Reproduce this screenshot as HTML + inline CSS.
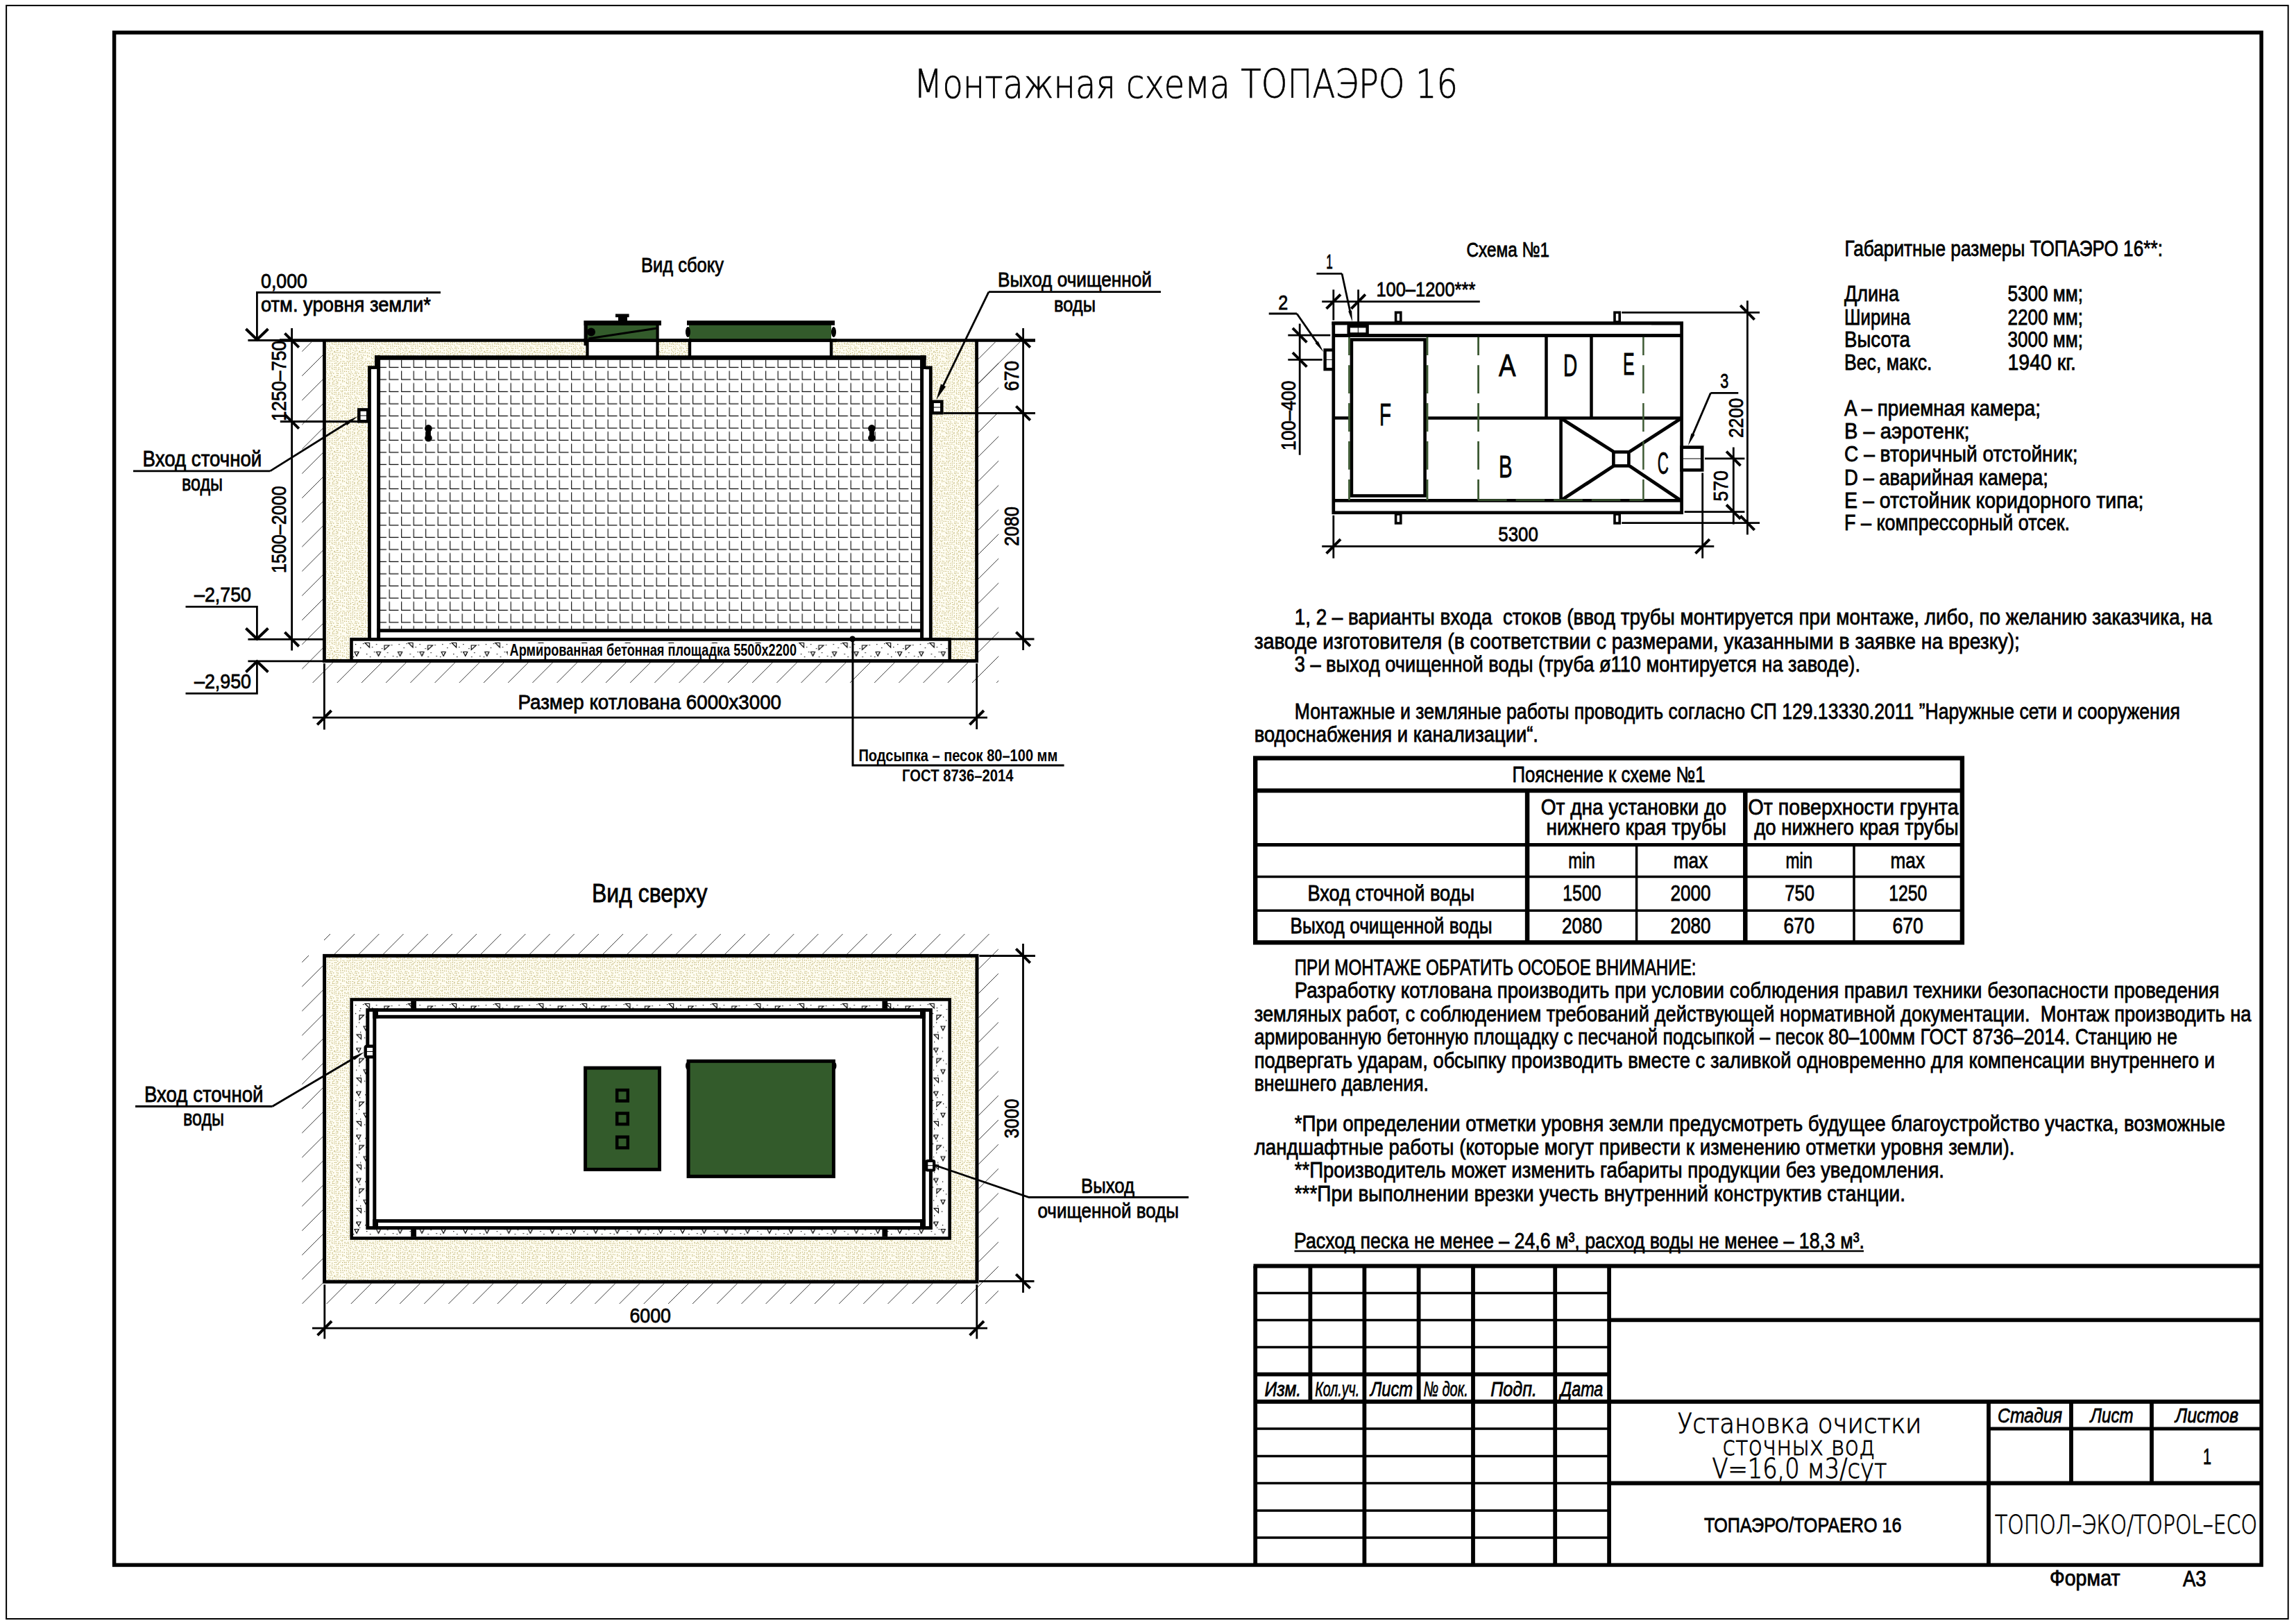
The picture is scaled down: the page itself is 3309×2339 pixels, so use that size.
<!DOCTYPE html>
<html lang="ru"><head><meta charset="utf-8"><title>Монтажная схема ТОПАЭРО 16</title>
<style>
html,body{margin:0;padding:0;background:#fff;}
svg{display:block;}
text{font-family:"Liberation Sans", "DejaVu Sans", sans-serif;fill:#000;white-space:pre;}
text.thin{font-family:"DejaVu Sans Light","DejaVu Sans","Liberation Sans",sans-serif;font-weight:200;}
</style></head><body>
<svg width="3309" height="2339" viewBox="0 0 3309 2339">
<defs>
<pattern id="sand" patternUnits="userSpaceOnUse" width="36" height="36">
<rect width="36" height="36" fill="#fffdf2"/>
<rect x="0.4" y="1.2" width="1.0" height="1.4" fill="#c6ba74"/>
<rect x="1.1" y="4.7" width="1.0" height="1.4" fill="#b5a75c"/>
<rect x="0.3" y="6.3" width="1.0" height="1.4" fill="#c6ba74"/>
<rect x="0.6" y="10.2" width="1.4" height="1.0" fill="#c6ba74"/>
<rect x="0.3" y="12.6" width="1.4" height="1.0" fill="#c0b268"/>
<rect x="0.4" y="15.4" width="1.0" height="1.4" fill="#b3a964"/>
<rect x="1.1" y="19.2" width="1.0" height="1.4" fill="#c6ba74"/>
<rect x="1.1" y="22.2" width="1.0" height="1.4" fill="#c6ba74"/>
<rect x="0.7" y="25.1" width="1.0" height="1.4" fill="#b9ab60"/>
<rect x="0.5" y="28.4" width="1.0" height="1.4" fill="#b9ab60"/>
<rect x="1.6" y="31.4" width="1.0" height="1.4" fill="#b5a75c"/>
<rect x="0.9" y="34.4" width="1.0" height="1.4" fill="#ada45e"/>
<rect x="4.7" y="0.3" width="1.4" height="1.0" fill="#b9ab60"/>
<rect x="3.8" y="4.0" width="1.4" height="1.0" fill="#b5a75c"/>
<rect x="4.7" y="7.0" width="1.4" height="1.0" fill="#b5a75c"/>
<rect x="3.7" y="10.1" width="1.4" height="1.0" fill="#ada45e"/>
<rect x="3.8" y="13.3" width="1.0" height="1.4" fill="#ada45e"/>
<rect x="4.2" y="16.0" width="1.0" height="1.4" fill="#b9ab60"/>
<rect x="3.6" y="18.8" width="1.4" height="1.0" fill="#b5a75c"/>
<rect x="3.8" y="21.6" width="1.0" height="1.4" fill="#ada45e"/>
<rect x="3.6" y="24.9" width="1.0" height="1.4" fill="#ada45e"/>
<rect x="3.4" y="27.5" width="1.0" height="1.4" fill="#c0b268"/>
<rect x="3.5" y="33.7" width="1.0" height="1.4" fill="#c6ba74"/>
<rect x="7.1" y="1.7" width="1.4" height="1.0" fill="#c6ba74"/>
<rect x="7.2" y="4.4" width="1.0" height="1.4" fill="#b3a964"/>
<rect x="6.8" y="6.8" width="1.0" height="1.4" fill="#b3a964"/>
<rect x="6.5" y="10.8" width="1.0" height="1.4" fill="#b5a75c"/>
<rect x="6.3" y="12.2" width="1.0" height="1.4" fill="#b5a75c"/>
<rect x="7.2" y="15.3" width="1.0" height="1.4" fill="#ada45e"/>
<rect x="6.6" y="18.8" width="1.0" height="1.4" fill="#b5a75c"/>
<rect x="7.0" y="22.8" width="1.0" height="1.4" fill="#b9ab60"/>
<rect x="6.4" y="24.7" width="1.0" height="1.4" fill="#b3a964"/>
<rect x="6.2" y="28.7" width="1.4" height="1.0" fill="#c0b268"/>
<rect x="7.7" y="31.4" width="1.0" height="1.4" fill="#b3a964"/>
<rect x="7.3" y="33.6" width="1.0" height="1.4" fill="#c0b268"/>
<rect x="9.6" y="1.1" width="1.4" height="1.0" fill="#b3a964"/>
<rect x="10.5" y="4.8" width="1.4" height="1.0" fill="#c0b268"/>
<rect x="10.4" y="6.6" width="1.4" height="1.0" fill="#b9ab60"/>
<rect x="10.8" y="10.5" width="1.0" height="1.4" fill="#c0b268"/>
<rect x="10.7" y="12.9" width="1.4" height="1.0" fill="#b9ab60"/>
<rect x="9.8" y="15.6" width="1.0" height="1.4" fill="#c0b268"/>
<rect x="10.0" y="19.8" width="1.4" height="1.0" fill="#b5a75c"/>
<rect x="10.2" y="22.5" width="1.0" height="1.4" fill="#b3a964"/>
<rect x="9.8" y="25.3" width="1.0" height="1.4" fill="#c0b268"/>
<rect x="10.2" y="27.3" width="1.4" height="1.0" fill="#b3a964"/>
<rect x="9.8" y="31.7" width="1.4" height="1.0" fill="#c0b268"/>
<rect x="9.2" y="34.1" width="1.0" height="1.4" fill="#b3a964"/>
<rect x="13.5" y="1.8" width="1.4" height="1.0" fill="#b9ab60"/>
<rect x="13.1" y="3.2" width="1.4" height="1.0" fill="#b3a964"/>
<rect x="13.0" y="7.7" width="1.0" height="1.4" fill="#c0b268"/>
<rect x="12.5" y="9.6" width="1.0" height="1.4" fill="#c0b268"/>
<rect x="12.7" y="13.1" width="1.4" height="1.0" fill="#b5a75c"/>
<rect x="12.8" y="15.9" width="1.4" height="1.0" fill="#c6ba74"/>
<rect x="13.7" y="19.0" width="1.4" height="1.0" fill="#c6ba74"/>
<rect x="13.6" y="22.4" width="1.4" height="1.0" fill="#c0b268"/>
<rect x="13.0" y="25.4" width="1.4" height="1.0" fill="#b9ab60"/>
<rect x="13.0" y="28.0" width="1.4" height="1.0" fill="#c6ba74"/>
<rect x="12.3" y="33.4" width="1.0" height="1.4" fill="#b5a75c"/>
<rect x="16.7" y="0.9" width="1.4" height="1.0" fill="#c6ba74"/>
<rect x="15.5" y="3.6" width="1.4" height="1.0" fill="#ada45e"/>
<rect x="15.6" y="7.0" width="1.4" height="1.0" fill="#b9ab60"/>
<rect x="16.6" y="9.5" width="1.0" height="1.4" fill="#ada45e"/>
<rect x="15.9" y="12.3" width="1.0" height="1.4" fill="#b5a75c"/>
<rect x="15.7" y="15.4" width="1.4" height="1.0" fill="#b3a964"/>
<rect x="15.8" y="18.6" width="1.0" height="1.4" fill="#ada45e"/>
<rect x="16.7" y="21.8" width="1.0" height="1.4" fill="#b3a964"/>
<rect x="15.5" y="24.9" width="1.4" height="1.0" fill="#b9ab60"/>
<rect x="15.8" y="27.3" width="1.0" height="1.4" fill="#b9ab60"/>
<rect x="15.9" y="30.2" width="1.0" height="1.4" fill="#c6ba74"/>
<rect x="16.7" y="33.4" width="1.4" height="1.0" fill="#c0b268"/>
<rect x="18.4" y="0.6" width="1.0" height="1.4" fill="#c0b268"/>
<rect x="18.4" y="3.9" width="1.4" height="1.0" fill="#b9ab60"/>
<rect x="19.1" y="7.0" width="1.0" height="1.4" fill="#b9ab60"/>
<rect x="18.3" y="10.3" width="1.0" height="1.4" fill="#b5a75c"/>
<rect x="18.2" y="12.3" width="1.0" height="1.4" fill="#c6ba74"/>
<rect x="18.3" y="16.6" width="1.0" height="1.4" fill="#b9ab60"/>
<rect x="18.9" y="19.7" width="1.4" height="1.0" fill="#b5a75c"/>
<rect x="18.6" y="21.4" width="1.0" height="1.4" fill="#b5a75c"/>
<rect x="19.7" y="25.2" width="1.4" height="1.0" fill="#c0b268"/>
<rect x="19.0" y="27.5" width="1.0" height="1.4" fill="#b5a75c"/>
<rect x="18.3" y="30.2" width="1.4" height="1.0" fill="#c0b268"/>
<rect x="18.6" y="33.9" width="1.4" height="1.0" fill="#b3a964"/>
<rect x="22.0" y="1.5" width="1.0" height="1.4" fill="#c6ba74"/>
<rect x="21.5" y="3.6" width="1.0" height="1.4" fill="#b3a964"/>
<rect x="21.4" y="7.8" width="1.4" height="1.0" fill="#c0b268"/>
<rect x="22.6" y="12.9" width="1.0" height="1.4" fill="#b3a964"/>
<rect x="22.6" y="16.3" width="1.0" height="1.4" fill="#c0b268"/>
<rect x="21.3" y="18.5" width="1.0" height="1.4" fill="#b5a75c"/>
<rect x="22.7" y="22.8" width="1.4" height="1.0" fill="#c0b268"/>
<rect x="21.5" y="27.5" width="1.0" height="1.4" fill="#b5a75c"/>
<rect x="22.0" y="30.5" width="1.4" height="1.0" fill="#b5a75c"/>
<rect x="22.5" y="33.4" width="1.4" height="1.0" fill="#ada45e"/>
<rect x="24.6" y="4.1" width="1.4" height="1.0" fill="#c0b268"/>
<rect x="25.3" y="7.6" width="1.0" height="1.4" fill="#b9ab60"/>
<rect x="25.0" y="9.7" width="1.4" height="1.0" fill="#c0b268"/>
<rect x="25.6" y="16.2" width="1.4" height="1.0" fill="#c6ba74"/>
<rect x="25.0" y="19.0" width="1.4" height="1.0" fill="#b5a75c"/>
<rect x="25.1" y="22.6" width="1.4" height="1.0" fill="#b3a964"/>
<rect x="24.3" y="24.3" width="1.4" height="1.0" fill="#b5a75c"/>
<rect x="24.9" y="27.3" width="1.0" height="1.4" fill="#c6ba74"/>
<rect x="25.0" y="30.2" width="1.4" height="1.0" fill="#b3a964"/>
<rect x="25.6" y="33.3" width="1.4" height="1.0" fill="#b3a964"/>
<rect x="27.6" y="0.3" width="1.0" height="1.4" fill="#b3a964"/>
<rect x="27.6" y="4.2" width="1.0" height="1.4" fill="#ada45e"/>
<rect x="27.7" y="9.3" width="1.4" height="1.0" fill="#c0b268"/>
<rect x="27.6" y="16.4" width="1.0" height="1.4" fill="#c6ba74"/>
<rect x="28.0" y="19.0" width="1.4" height="1.0" fill="#b5a75c"/>
<rect x="28.3" y="21.7" width="1.4" height="1.0" fill="#ada45e"/>
<rect x="28.4" y="25.8" width="1.4" height="1.0" fill="#b9ab60"/>
<rect x="28.7" y="27.2" width="1.0" height="1.4" fill="#c6ba74"/>
<rect x="27.9" y="30.6" width="1.0" height="1.4" fill="#c0b268"/>
<rect x="31.4" y="0.6" width="1.0" height="1.4" fill="#c6ba74"/>
<rect x="31.0" y="4.6" width="1.4" height="1.0" fill="#c0b268"/>
<rect x="31.6" y="6.8" width="1.0" height="1.4" fill="#ada45e"/>
<rect x="30.8" y="10.4" width="1.0" height="1.4" fill="#ada45e"/>
<rect x="31.5" y="12.2" width="1.4" height="1.0" fill="#ada45e"/>
<rect x="31.7" y="16.3" width="1.4" height="1.0" fill="#b9ab60"/>
<rect x="30.3" y="18.8" width="1.4" height="1.0" fill="#b5a75c"/>
<rect x="30.9" y="21.6" width="1.0" height="1.4" fill="#b5a75c"/>
<rect x="31.2" y="27.4" width="1.4" height="1.0" fill="#ada45e"/>
<rect x="30.5" y="30.8" width="1.4" height="1.0" fill="#b5a75c"/>
<rect x="31.2" y="34.7" width="1.4" height="1.0" fill="#c6ba74"/>
<rect x="33.3" y="1.7" width="1.0" height="1.4" fill="#c6ba74"/>
<rect x="34.2" y="3.7" width="1.0" height="1.4" fill="#c6ba74"/>
<rect x="34.0" y="6.7" width="1.0" height="1.4" fill="#b3a964"/>
<rect x="34.2" y="9.8" width="1.0" height="1.4" fill="#ada45e"/>
<rect x="33.8" y="12.5" width="1.0" height="1.4" fill="#c0b268"/>
<rect x="34.5" y="16.1" width="1.0" height="1.4" fill="#b9ab60"/>
<rect x="33.9" y="18.4" width="1.0" height="1.4" fill="#b5a75c"/>
<rect x="34.1" y="21.7" width="1.0" height="1.4" fill="#c6ba74"/>
<rect x="33.2" y="25.6" width="1.0" height="1.4" fill="#b3a964"/>
<rect x="33.8" y="27.7" width="1.0" height="1.4" fill="#b9ab60"/>
<rect x="33.8" y="31.3" width="1.4" height="1.0" fill="#c0b268"/>
<rect x="34.6" y="33.8" width="1.4" height="1.0" fill="#ada45e"/>
</pattern>
<pattern id="grid" patternUnits="userSpaceOnUse" x="560.6" y="512.6" width="17.5" height="17.5">
<path d="M0.6,4.4V16.9H13.9" fill="none" stroke="#000" stroke-width="1.1"/>
</pattern>
<pattern id="conc" patternUnits="userSpaceOnUse" x="506" y="924" width="62.6" height="26">
<rect width="62.6" height="26" fill="#fff"/>
<g fill="#000">
<rect x="6" y="4" width="1.25" height="1.25"/><rect x="13" y="9" width="1.25" height="1.25"/><rect x="9" y="17" width="1.25" height="1.25"/><rect x="17" y="3" width="1.25" height="1.25"/>
<rect x="30" y="8" width="1.25" height="1.25"/><rect x="36" y="4" width="1.25" height="1.25"/><rect x="44" y="10" width="1.25" height="1.25"/><rect x="40" y="18" width="1.25" height="1.25"/>
<rect x="52" y="16" width="1.25" height="1.25"/><rect x="58" y="5" width="1.25" height="1.25"/><rect x="22" y="18" width="1.25" height="1.25"/><rect x="27" y="22" width="1.25" height="1.25"/>
<rect x="3" y="22" width="1.25" height="1.25"/><rect x="48" y="22" width="1.25" height="1.25"/><rect x="60" y="21" width="1.25" height="1.25"/><rect x="33" y="15" width="1.25" height="1.25"/>
</g>
<g fill="none" stroke="#000" stroke-width="1.15">
<path d="M20,2.5h6.5v6.5z"/><path d="M48,6h7l-7,6.5z"/><path d="M5,15.5h6l-3,6z"/><path d="M36.5,15.5h6l-3,6z"/>
</g>
</pattern>
<pattern id="concv" patternUnits="userSpaceOnUse" x="509" y="1443" width="26" height="62.6">
<rect width="26" height="62.6" fill="#fff"/>
<g fill="#000">
<rect x="4" y="6" width="1.25" height="1.25"/><rect x="9" y="13" width="1.25" height="1.25"/><rect x="17" y="9" width="1.25" height="1.25"/><rect x="3" y="17" width="1.25" height="1.25"/>
<rect x="8" y="30" width="1.25" height="1.25"/><rect x="4" y="36" width="1.25" height="1.25"/><rect x="10" y="44" width="1.25" height="1.25"/><rect x="18" y="40" width="1.25" height="1.25"/>
<rect x="16" y="52" width="1.25" height="1.25"/><rect x="5" y="58" width="1.25" height="1.25"/><rect x="18" y="22" width="1.25" height="1.25"/><rect x="22" y="27" width="1.25" height="1.25"/>
</g>
<g fill="none" stroke="#000" stroke-width="1.15">
<path d="M9,20h6.5l-6.5,6.5z"/><path d="M5,48h6.5v6.5z"/><path d="M5,5h6l-3,6z"/><path d="M15,36h6l-3,6z"/>
</g>
</pattern>
<clipPath id="cSide"><path clip-rule="evenodd" d="M435.3,493H1439.2V983.9H435.3ZM465.3,493H1410V954.6H465.3Z"/></clipPath>
<clipPath id="cTop"><path clip-rule="evenodd" d="M467,1346.1H1438.9V1878.9H435.3V1377H467ZM465.5,1375H1410.3V1849.6H465.5Z"/></clipPath>
</defs>
<rect width="3309" height="2339" fill="#fff"/>

<rect x="9.1" y="7.9" width="3288.6" height="2325.1" fill="none" stroke="#000" stroke-width="2"/>
<rect x="164.6" y="46.9" width="3094.5" height="2208.5" fill="none" stroke="#000" stroke-width="5.5"/>
<text x="1317.0" y="141.0" font-size="56.2" textLength="784.0" lengthAdjust="spacingAndGlyphs" class="thin" stroke="#000" stroke-width="0.7">Монтажная схема ТОПАЭРО 16</text>
<g id="side">
<rect x="467.4" y="490.5" width="940.2" height="461.8" fill="url(#sand)"/>
<g clip-path="url(#cSide)">
<line x1="-118.6" y1="990.0" x2="391.4" y2="480.0" stroke="#3c3c3c" stroke-width="1.0"/>
<line x1="-83.4" y1="990.0" x2="426.6" y2="480.0" stroke="#3c3c3c" stroke-width="1.0"/>
<line x1="-48.2" y1="990.0" x2="461.8" y2="480.0" stroke="#3c3c3c" stroke-width="1.0"/>
<line x1="-13.0" y1="990.0" x2="497.0" y2="480.0" stroke="#3c3c3c" stroke-width="1.0"/>
<line x1="22.2" y1="990.0" x2="532.2" y2="480.0" stroke="#3c3c3c" stroke-width="1.0"/>
<line x1="57.4" y1="990.0" x2="567.4" y2="480.0" stroke="#3c3c3c" stroke-width="1.0"/>
<line x1="92.6" y1="990.0" x2="602.6" y2="480.0" stroke="#3c3c3c" stroke-width="1.0"/>
<line x1="127.8" y1="990.0" x2="637.8" y2="480.0" stroke="#3c3c3c" stroke-width="1.0"/>
<line x1="163.0" y1="990.0" x2="673.0" y2="480.0" stroke="#3c3c3c" stroke-width="1.0"/>
<line x1="198.2" y1="990.0" x2="708.2" y2="480.0" stroke="#3c3c3c" stroke-width="1.0"/>
<line x1="233.4" y1="990.0" x2="743.4" y2="480.0" stroke="#3c3c3c" stroke-width="1.0"/>
<line x1="268.6" y1="990.0" x2="778.6" y2="480.0" stroke="#3c3c3c" stroke-width="1.0"/>
<line x1="303.8" y1="990.0" x2="813.8" y2="480.0" stroke="#3c3c3c" stroke-width="1.0"/>
<line x1="339.0" y1="990.0" x2="849.0" y2="480.0" stroke="#3c3c3c" stroke-width="1.0"/>
<line x1="374.2" y1="990.0" x2="884.2" y2="480.0" stroke="#3c3c3c" stroke-width="1.0"/>
<line x1="409.4" y1="990.0" x2="919.4" y2="480.0" stroke="#3c3c3c" stroke-width="1.0"/>
<line x1="444.6" y1="990.0" x2="954.6" y2="480.0" stroke="#3c3c3c" stroke-width="1.0"/>
<line x1="479.8" y1="990.0" x2="989.8" y2="480.0" stroke="#3c3c3c" stroke-width="1.0"/>
<line x1="515.0" y1="990.0" x2="1025.0" y2="480.0" stroke="#3c3c3c" stroke-width="1.0"/>
<line x1="550.2" y1="990.0" x2="1060.2" y2="480.0" stroke="#3c3c3c" stroke-width="1.0"/>
<line x1="585.4" y1="990.0" x2="1095.4" y2="480.0" stroke="#3c3c3c" stroke-width="1.0"/>
<line x1="620.6" y1="990.0" x2="1130.6" y2="480.0" stroke="#3c3c3c" stroke-width="1.0"/>
<line x1="655.8" y1="990.0" x2="1165.8" y2="480.0" stroke="#3c3c3c" stroke-width="1.0"/>
<line x1="691.0" y1="990.0" x2="1201.0" y2="480.0" stroke="#3c3c3c" stroke-width="1.0"/>
<line x1="726.2" y1="990.0" x2="1236.2" y2="480.0" stroke="#3c3c3c" stroke-width="1.0"/>
<line x1="761.4" y1="990.0" x2="1271.4" y2="480.0" stroke="#3c3c3c" stroke-width="1.0"/>
<line x1="796.6" y1="990.0" x2="1306.6" y2="480.0" stroke="#3c3c3c" stroke-width="1.0"/>
<line x1="831.8" y1="990.0" x2="1341.8" y2="480.0" stroke="#3c3c3c" stroke-width="1.0"/>
<line x1="867.0" y1="990.0" x2="1377.0" y2="480.0" stroke="#3c3c3c" stroke-width="1.0"/>
<line x1="902.2" y1="990.0" x2="1412.2" y2="480.0" stroke="#3c3c3c" stroke-width="1.0"/>
<line x1="937.4" y1="990.0" x2="1447.4" y2="480.0" stroke="#3c3c3c" stroke-width="1.0"/>
<line x1="972.6" y1="990.0" x2="1482.6" y2="480.0" stroke="#3c3c3c" stroke-width="1.0"/>
<line x1="1007.8" y1="990.0" x2="1517.8" y2="480.0" stroke="#3c3c3c" stroke-width="1.0"/>
<line x1="1043.0" y1="990.0" x2="1553.0" y2="480.0" stroke="#3c3c3c" stroke-width="1.0"/>
<line x1="1078.2" y1="990.0" x2="1588.2" y2="480.0" stroke="#3c3c3c" stroke-width="1.0"/>
<line x1="1113.4" y1="990.0" x2="1623.4" y2="480.0" stroke="#3c3c3c" stroke-width="1.0"/>
<line x1="1148.6" y1="990.0" x2="1658.6" y2="480.0" stroke="#3c3c3c" stroke-width="1.0"/>
<line x1="1183.8" y1="990.0" x2="1693.8" y2="480.0" stroke="#3c3c3c" stroke-width="1.0"/>
<line x1="1219.0" y1="990.0" x2="1729.0" y2="480.0" stroke="#3c3c3c" stroke-width="1.0"/>
<line x1="1254.2" y1="990.0" x2="1764.2" y2="480.0" stroke="#3c3c3c" stroke-width="1.0"/>
<line x1="1289.4" y1="990.0" x2="1799.4" y2="480.0" stroke="#3c3c3c" stroke-width="1.0"/>
<line x1="1324.6" y1="990.0" x2="1834.6" y2="480.0" stroke="#3c3c3c" stroke-width="1.0"/>
<line x1="1359.8" y1="990.0" x2="1869.8" y2="480.0" stroke="#3c3c3c" stroke-width="1.0"/>
<line x1="1395.0" y1="990.0" x2="1905.0" y2="480.0" stroke="#3c3c3c" stroke-width="1.0"/>
<line x1="1430.2" y1="990.0" x2="1940.2" y2="480.0" stroke="#3c3c3c" stroke-width="1.0"/>
<line x1="1465.4" y1="990.0" x2="1975.4" y2="480.0" stroke="#3c3c3c" stroke-width="1.0"/>
<line x1="1500.6" y1="990.0" x2="2010.6" y2="480.0" stroke="#3c3c3c" stroke-width="1.0"/>
<line x1="1535.8" y1="990.0" x2="2045.8" y2="480.0" stroke="#3c3c3c" stroke-width="1.0"/>
</g>
<line x1="1410.0" y1="552.7" x2="1470.0" y2="492.7" stroke="#3c3c3c" stroke-width="1.0"/>
<rect x="846.5" y="492.0" width="101.1" height="21.0" fill="#fff"/>
<rect x="994.0" y="492.0" width="204.0" height="21.0" fill="#fff"/>
<rect x="532.5" y="529.6" width="808.8" height="391.4" fill="#fff"/>
<rect x="545.5" y="515.5" width="783.1" height="393.2" fill="#fff"/>
<rect x="548.0" y="518.7" width="778.2" height="387.6" fill="url(#grid)"/>
<rect x="506.5" y="921.4" width="862.2" height="30.9" fill="url(#conc)"/>
<line x1="357.4" y1="490.5" x2="404.0" y2="490.5" stroke="#000" stroke-width="2.8"/>
<line x1="403.0" y1="490.5" x2="1492.0" y2="490.5" stroke="#000" stroke-width="4.6"/>
<polyline points="467.4,490.5 467.4,952.3 1407.6,952.3 1407.6,490.5" fill="none" stroke="#000" stroke-width="4.8"/>
<line x1="465.0" y1="952.3" x2="1410.0" y2="952.3" stroke="#000" stroke-width="4.8"/>
<polyline points="506.5,954.0 506.5,921.4 1368.7,921.4 1368.7,954.0" fill="none" stroke="#000" stroke-width="4.6"/>
<line x1="540.0" y1="515.5" x2="1334.6" y2="515.5" stroke="#000" stroke-width="6.5"/>
<line x1="545.6" y1="515.0" x2="545.6" y2="921.0" stroke="#000" stroke-width="5"/>
<line x1="1328.6" y1="515.0" x2="1328.6" y2="921.0" stroke="#000" stroke-width="5"/>
<line x1="543.0" y1="908.7" x2="1331.0" y2="908.7" stroke="#000" stroke-width="5"/>
<polyline points="540.0,529.7 532.5,529.7 532.5,921.0" fill="none" stroke="#000" stroke-width="4.8"/>
<polyline points="1334.0,529.8 1341.3,529.8 1341.3,921.0" fill="none" stroke="#000" stroke-width="4.8"/>
<rect x="540.0" y="512.2" width="7.9" height="19.7" fill="#000"/>
<rect x="1326.2" y="512.2" width="8.4" height="19.8" fill="#000"/>
<rect x="517.3" y="590.4" width="12.9" height="16.9" fill="#fff" stroke="#000" stroke-width="4.5"/>
<line x1="519.0" y1="599.0" x2="530.0" y2="599.0" stroke="#000" stroke-width="1"/>
<rect x="1343.6" y="578.7" width="13.7" height="16.5" fill="#fff" stroke="#000" stroke-width="4.5"/>
<line x1="1345.0" y1="587.0" x2="1356.0" y2="587.0" stroke="#000" stroke-width="1"/>
<line x1="617.4" y1="617.5" x2="617.4" y2="631" stroke="#000" stroke-width="7"/>
<circle cx="617.4" cy="617.4" r="5.3"/><circle cx="617.4" cy="631.2" r="5.3"/>
<line x1="1256.4" y1="617.5" x2="1256.4" y2="631" stroke="#000" stroke-width="7"/>
<circle cx="1256.4" cy="617.4" r="5.3"/><circle cx="1256.4" cy="631.2" r="5.3"/>
<rect x="846.0" y="468.0" width="101.0" height="21.0" fill="#335b2b"/>
<line x1="841.6" y1="465.5" x2="953.0" y2="465.5" stroke="#000" stroke-width="7"/>
<line x1="844.2" y1="462.0" x2="844.2" y2="498.0" stroke="#000" stroke-width="5.2"/>
<line x1="846.5" y1="490.0" x2="846.5" y2="513.0" stroke="#000" stroke-width="4.2"/>
<line x1="947.6" y1="466.0" x2="947.6" y2="513.0" stroke="#000" stroke-width="4.2"/>
<line x1="848.0" y1="488.0" x2="947.0" y2="473.0" stroke="#000" stroke-width="3"/>
<circle cx="852" cy="478.5" r="6"/>
<rect x="887.0" y="452.4" width="19.6" height="4.8" fill="#000"/>
<rect x="891.0" y="457.0" width="13.0" height="5.5" fill="#000"/>
<rect x="993.0" y="468.0" width="205.0" height="21.0" fill="#335b2b"/>
<line x1="990.0" y1="465.3" x2="1203.0" y2="465.3" stroke="#000" stroke-width="6.8"/>
<ellipse cx="991.5" cy="478.5" rx="3.5" ry="7.5"/><ellipse cx="1201.5" cy="478.5" rx="3.5" ry="7.5"/>
<line x1="994.0" y1="488.0" x2="994.0" y2="513.0" stroke="#000" stroke-width="4.4"/>
<line x1="1198.0" y1="488.0" x2="1198.0" y2="513.0" stroke="#000" stroke-width="4.4"/>
<line x1="841.0" y1="490.5" x2="1206.0" y2="490.5" stroke="#000" stroke-width="4.6"/>
<text x="376.0" y="415.0" font-size="30.2" textLength="67.0" lengthAdjust="spacingAndGlyphs" stroke="#000" stroke-width="0.8">0,000</text>
<text x="376.0" y="449.0" font-size="30.2" textLength="245.0" lengthAdjust="spacingAndGlyphs" stroke="#000" stroke-width="0.8">отм. уровня земли*</text>
<polyline points="635.0,421.5 370.4,421.5 370.4,489.0" fill="none" stroke="#000" stroke-width="2.8"/>
<polyline points="354.4,474.0 370.4,489.5 386.4,474.0" fill="none" stroke="#000" stroke-width="4"/>
<text x="280.0" y="867.0" font-size="30.2" textLength="82.0" lengthAdjust="spacingAndGlyphs" stroke="#000" stroke-width="0.8">–2,750</text>
<polyline points="267.5,874.4 370.4,874.4 370.4,920.0" fill="none" stroke="#000" stroke-width="2.8"/>
<polyline points="354.4,905.5 370.4,920.8 386.4,905.5" fill="none" stroke="#000" stroke-width="4"/>
<line x1="357.4" y1="921.3" x2="467.0" y2="921.3" stroke="#000" stroke-width="2.8"/>
<line x1="357.4" y1="952.8" x2="467.0" y2="952.8" stroke="#000" stroke-width="2.8"/>
<text x="280.0" y="992.0" font-size="30.2" textLength="82.0" lengthAdjust="spacingAndGlyphs" stroke="#000" stroke-width="0.8">–2,950</text>
<polyline points="267.5,999.3 370.4,999.3 370.4,954.0" fill="none" stroke="#000" stroke-width="2.8"/>
<polyline points="354.4,968.5 370.4,953.3 386.4,968.5" fill="none" stroke="#000" stroke-width="4"/>
<line x1="420.6" y1="473.0" x2="420.6" y2="937.6" stroke="#000" stroke-width="2.8"/>
<line x1="410.4" y1="480.3" x2="430.8" y2="500.7" stroke="#000" stroke-width="4"/>
<line x1="410.4" y1="597.3" x2="430.8" y2="617.7" stroke="#000" stroke-width="4"/>
<line x1="410.4" y1="911.1" x2="430.8" y2="931.5" stroke="#000" stroke-width="4"/>
<line x1="403.8" y1="607.5" x2="516.0" y2="607.5" stroke="#000" stroke-width="2.8"/>
<text transform="translate(412.0,607.0) rotate(-90)" font-size="30.2" textLength="116.0" lengthAdjust="spacingAndGlyphs" stroke="#000" stroke-width="0.8">1250–750</text>
<text transform="translate(412.0,826.0) rotate(-90)" font-size="30.2" textLength="125.6" lengthAdjust="spacingAndGlyphs" stroke="#000" stroke-width="0.8">1500–2000</text>
<line x1="1474.6" y1="473.0" x2="1474.6" y2="937.0" stroke="#000" stroke-width="2.8"/>
<line x1="1464.4" y1="480.3" x2="1484.8" y2="500.7" stroke="#000" stroke-width="4"/>
<line x1="1464.4" y1="585.3" x2="1484.8" y2="605.7" stroke="#000" stroke-width="4"/>
<line x1="1464.4" y1="910.8" x2="1484.8" y2="931.2" stroke="#000" stroke-width="4"/>
<line x1="1359.5" y1="595.5" x2="1492.0" y2="595.5" stroke="#000" stroke-width="2.8"/>
<line x1="1369.0" y1="921.0" x2="1490.5" y2="921.0" stroke="#000" stroke-width="2.8"/>
<text transform="translate(1467.6,563.6) rotate(-90)" font-size="30.2" textLength="43.8" lengthAdjust="spacingAndGlyphs" stroke="#000" stroke-width="0.8">670</text>
<text transform="translate(1467.5,786.9) rotate(-90)" font-size="30.2" textLength="56.8" lengthAdjust="spacingAndGlyphs" stroke="#000" stroke-width="0.8">2080</text>
<line x1="450.5" y1="1034.2" x2="1423.0" y2="1034.2" stroke="#000" stroke-width="2.8"/>
<line x1="467.4" y1="956.0" x2="467.4" y2="1051.5" stroke="#000" stroke-width="2.8"/>
<line x1="1407.7" y1="956.0" x2="1407.7" y2="1051.0" stroke="#000" stroke-width="2.8"/>
<line x1="457.2" y1="1044.4" x2="477.6" y2="1024.0" stroke="#000" stroke-width="4"/>
<line x1="1397.5" y1="1044.4" x2="1417.9" y2="1024.0" stroke="#000" stroke-width="4"/>
<text x="746.5" y="1022.0" font-size="30.2" textLength="379.5" lengthAdjust="spacingAndGlyphs" stroke="#000" stroke-width="0.8">Размер котлована 6000x3000</text>
<text x="924.0" y="392.0" font-size="29.8" textLength="119.0" lengthAdjust="spacingAndGlyphs" stroke="#000" stroke-width="0.8">Вид сбоку</text>
<text x="205.6" y="672.0" font-size="30.8" textLength="171.7" lengthAdjust="spacingAndGlyphs" stroke="#000" stroke-width="0.8">Вход сточной</text>
<text x="262.0" y="707.0" font-size="30.8" textLength="59.0" lengthAdjust="spacingAndGlyphs" stroke="#000" stroke-width="0.8">воды</text>
<line x1="192.0" y1="678.9" x2="389.3" y2="678.9" stroke="#000" stroke-width="2.8"/>
<line x1="389.3" y1="678.9" x2="500.2" y2="609.5" stroke="#000" stroke-width="2.8"/>
<polygon points="515.5,600.0 500.1,613.1 497.0,608.1" fill="#000"/>
<text x="1438.0" y="413.2" font-size="30.2" textLength="222.0" lengthAdjust="spacingAndGlyphs" stroke="#000" stroke-width="0.8">Выход очищенной</text>
<text x="1519.0" y="448.6" font-size="30.2" textLength="60.0" lengthAdjust="spacingAndGlyphs" stroke="#000" stroke-width="0.8">воды</text>
<line x1="1425.0" y1="420.6" x2="1673.0" y2="420.6" stroke="#000" stroke-width="2.8"/>
<line x1="1425.0" y1="420.6" x2="1358.7" y2="557.1" stroke="#000" stroke-width="2.8"/>
<polygon points="1349.5,576.0 1356.0,553.6 1363.1,557.1" fill="#000"/>
<rect x="732.0" y="927.2" width="419.0" height="20.8" fill="#fff"/>
<text x="734.6" y="945.1" font-size="23.7" textLength="413.4" lengthAdjust="spacingAndGlyphs" font-weight="bold">Армированная бетонная площадка 5500x2200</text>
<circle cx="1228.6" cy="920.8" r="4.4"/>
<polyline points="1229.0,920.8 1229.0,1103.1 1533.6,1103.1" fill="none" stroke="#000" stroke-width="3"/>
<text x="1237.4" y="1097.3" font-size="24.6" textLength="286.9" lengthAdjust="spacingAndGlyphs" font-weight="bold">Подсыпка – песок 80–100 мм</text>
<text x="1300.1" y="1125.5" font-size="24.6" textLength="160.4" lengthAdjust="spacingAndGlyphs" font-weight="bold">ГОСТ 8736–2014</text>
</g>
<g id="top">
<text x="853.0" y="1299.5" font-size="36.3" textLength="166.5" lengthAdjust="spacingAndGlyphs" stroke="#000" stroke-width="0.8">Вид сверху</text>
<g clip-path="url(#cTop)">
<line x1="-103.1" y1="1890.0" x2="456.9" y2="1330.0" stroke="#3c3c3c" stroke-width="1.0"/>
<line x1="-68.0" y1="1890.0" x2="492.0" y2="1330.0" stroke="#3c3c3c" stroke-width="1.0"/>
<line x1="-32.8" y1="1890.0" x2="527.2" y2="1330.0" stroke="#3c3c3c" stroke-width="1.0"/>
<line x1="2.4" y1="1890.0" x2="562.4" y2="1330.0" stroke="#3c3c3c" stroke-width="1.0"/>
<line x1="37.5" y1="1890.0" x2="597.5" y2="1330.0" stroke="#3c3c3c" stroke-width="1.0"/>
<line x1="72.7" y1="1890.0" x2="632.7" y2="1330.0" stroke="#3c3c3c" stroke-width="1.0"/>
<line x1="107.9" y1="1890.0" x2="667.9" y2="1330.0" stroke="#3c3c3c" stroke-width="1.0"/>
<line x1="143.1" y1="1890.0" x2="703.1" y2="1330.0" stroke="#3c3c3c" stroke-width="1.0"/>
<line x1="178.2" y1="1890.0" x2="738.2" y2="1330.0" stroke="#3c3c3c" stroke-width="1.0"/>
<line x1="213.4" y1="1890.0" x2="773.4" y2="1330.0" stroke="#3c3c3c" stroke-width="1.0"/>
<line x1="248.6" y1="1890.0" x2="808.6" y2="1330.0" stroke="#3c3c3c" stroke-width="1.0"/>
<line x1="283.7" y1="1890.0" x2="843.7" y2="1330.0" stroke="#3c3c3c" stroke-width="1.0"/>
<line x1="318.9" y1="1890.0" x2="878.9" y2="1330.0" stroke="#3c3c3c" stroke-width="1.0"/>
<line x1="354.1" y1="1890.0" x2="914.1" y2="1330.0" stroke="#3c3c3c" stroke-width="1.0"/>
<line x1="389.2" y1="1890.0" x2="949.2" y2="1330.0" stroke="#3c3c3c" stroke-width="1.0"/>
<line x1="424.4" y1="1890.0" x2="984.4" y2="1330.0" stroke="#3c3c3c" stroke-width="1.0"/>
<line x1="459.6" y1="1890.0" x2="1019.6" y2="1330.0" stroke="#3c3c3c" stroke-width="1.0"/>
<line x1="494.8" y1="1890.0" x2="1054.8" y2="1330.0" stroke="#3c3c3c" stroke-width="1.0"/>
<line x1="529.9" y1="1890.0" x2="1089.9" y2="1330.0" stroke="#3c3c3c" stroke-width="1.0"/>
<line x1="565.1" y1="1890.0" x2="1125.1" y2="1330.0" stroke="#3c3c3c" stroke-width="1.0"/>
<line x1="600.3" y1="1890.0" x2="1160.3" y2="1330.0" stroke="#3c3c3c" stroke-width="1.0"/>
<line x1="635.4" y1="1890.0" x2="1195.4" y2="1330.0" stroke="#3c3c3c" stroke-width="1.0"/>
<line x1="670.6" y1="1890.0" x2="1230.6" y2="1330.0" stroke="#3c3c3c" stroke-width="1.0"/>
<line x1="705.8" y1="1890.0" x2="1265.8" y2="1330.0" stroke="#3c3c3c" stroke-width="1.0"/>
<line x1="740.9" y1="1890.0" x2="1300.9" y2="1330.0" stroke="#3c3c3c" stroke-width="1.0"/>
<line x1="776.1" y1="1890.0" x2="1336.1" y2="1330.0" stroke="#3c3c3c" stroke-width="1.0"/>
<line x1="811.3" y1="1890.0" x2="1371.3" y2="1330.0" stroke="#3c3c3c" stroke-width="1.0"/>
<line x1="846.4" y1="1890.0" x2="1406.4" y2="1330.0" stroke="#3c3c3c" stroke-width="1.0"/>
<line x1="881.6" y1="1890.0" x2="1441.6" y2="1330.0" stroke="#3c3c3c" stroke-width="1.0"/>
<line x1="916.8" y1="1890.0" x2="1476.8" y2="1330.0" stroke="#3c3c3c" stroke-width="1.0"/>
<line x1="952.0" y1="1890.0" x2="1512.0" y2="1330.0" stroke="#3c3c3c" stroke-width="1.0"/>
<line x1="987.1" y1="1890.0" x2="1547.1" y2="1330.0" stroke="#3c3c3c" stroke-width="1.0"/>
<line x1="1022.3" y1="1890.0" x2="1582.3" y2="1330.0" stroke="#3c3c3c" stroke-width="1.0"/>
<line x1="1057.5" y1="1890.0" x2="1617.5" y2="1330.0" stroke="#3c3c3c" stroke-width="1.0"/>
<line x1="1092.6" y1="1890.0" x2="1652.6" y2="1330.0" stroke="#3c3c3c" stroke-width="1.0"/>
<line x1="1127.8" y1="1890.0" x2="1687.8" y2="1330.0" stroke="#3c3c3c" stroke-width="1.0"/>
<line x1="1163.0" y1="1890.0" x2="1723.0" y2="1330.0" stroke="#3c3c3c" stroke-width="1.0"/>
<line x1="1198.2" y1="1890.0" x2="1758.2" y2="1330.0" stroke="#3c3c3c" stroke-width="1.0"/>
<line x1="1233.3" y1="1890.0" x2="1793.3" y2="1330.0" stroke="#3c3c3c" stroke-width="1.0"/>
<line x1="1268.5" y1="1890.0" x2="1828.5" y2="1330.0" stroke="#3c3c3c" stroke-width="1.0"/>
<line x1="1303.7" y1="1890.0" x2="1863.7" y2="1330.0" stroke="#3c3c3c" stroke-width="1.0"/>
<line x1="1338.8" y1="1890.0" x2="1898.8" y2="1330.0" stroke="#3c3c3c" stroke-width="1.0"/>
<line x1="1374.0" y1="1890.0" x2="1934.0" y2="1330.0" stroke="#3c3c3c" stroke-width="1.0"/>
<line x1="1409.2" y1="1890.0" x2="1969.2" y2="1330.0" stroke="#3c3c3c" stroke-width="1.0"/>
<line x1="1444.3" y1="1890.0" x2="2004.3" y2="1330.0" stroke="#3c3c3c" stroke-width="1.0"/>
<line x1="1479.5" y1="1890.0" x2="2039.5" y2="1330.0" stroke="#3c3c3c" stroke-width="1.0"/>
<line x1="1514.7" y1="1890.0" x2="2074.7" y2="1330.0" stroke="#3c3c3c" stroke-width="1.0"/>
</g>
<rect x="467.6" y="1377.4" width="940.4" height="469.8" fill="url(#sand)"/>
<rect x="506.7" y="1440.5" width="862.0" height="344.0" fill="url(#conc)"/>
<rect x="506.7" y="1456.0" width="23.1" height="314.0" fill="url(#concv)"/>
<rect x="1341.4" y="1456.0" width="27.3" height="314.0" fill="url(#concv)"/>
<rect x="529.8" y="1455.6" width="811.6" height="314.0" fill="#fff"/>
<rect x="467.6" y="1377.4" width="940.4" height="469.8" fill="none" stroke="#000" stroke-width="5"/>
<rect x="506.7" y="1440.5" width="862.0" height="344.0" fill="none" stroke="#000" stroke-width="4.6"/>
<rect x="529.8" y="1455.6" width="811.6" height="314.0" fill="none" stroke="#000" stroke-width="5"/>
<rect x="539.8" y="1465.3" width="791.6" height="294.3" fill="none" stroke="#000" stroke-width="5"/>
<rect x="537.0" y="1453.1" width="8.0" height="14.7" fill="#000"/>
<rect x="1326.0" y="1453.1" width="8.0" height="14.7" fill="#000"/>
<rect x="537.0" y="1757.3" width="8.0" height="14.5" fill="#000"/>
<rect x="1326.0" y="1757.3" width="8.0" height="14.5" fill="#000"/>
<line x1="596.1" y1="1442.5" x2="596.1" y2="1453.5" stroke="#000" stroke-width="7.8"/>
<line x1="596.1" y1="1771.5" x2="596.1" y2="1782.5" stroke="#000" stroke-width="7.8"/>
<line x1="1275.3" y1="1442.5" x2="1275.3" y2="1453.5" stroke="#000" stroke-width="7.8"/>
<line x1="1275.3" y1="1771.5" x2="1275.3" y2="1782.5" stroke="#000" stroke-width="7.8"/>
<rect x="526.7" y="1507.7" width="12.6" height="15.6" rx="2" fill="#fff" stroke="#000" stroke-width="4.4"/>
<line x1="528.0" y1="1515.5" x2="538.0" y2="1515.5" stroke="#000" stroke-width="1"/>
<rect x="1335.2" y="1673" width="11" height="13.5" rx="1.5" fill="#fff" stroke="#000" stroke-width="4.2"/>
<line x1="1336.0" y1="1679.7" x2="1345.5" y2="1679.7" stroke="#000" stroke-width="1"/>
<rect x="843.6" y="1539.1" width="106.9" height="146.3" fill="#335b2b" stroke="#000" stroke-width="5"/>
<rect x="889.2" y="1571.0" width="15.6" height="15.6" fill="none" stroke="#000" stroke-width="4.5"/>
<rect x="889.2" y="1604.5" width="15.6" height="15.6" fill="none" stroke="#000" stroke-width="4.5"/>
<rect x="889.2" y="1638.6" width="15.6" height="15.6" fill="none" stroke="#000" stroke-width="4.5"/>
<rect x="992.1" y="1529.3" width="209.3" height="166.1" fill="#335b2b" stroke="#000" stroke-width="5"/>
<ellipse cx="991" cy="1536" rx="3" ry="5.5"/><ellipse cx="1202.5" cy="1536" rx="3" ry="5.5"/>
<text x="208.0" y="1588.0" font-size="30.8" textLength="171.5" lengthAdjust="spacingAndGlyphs" stroke="#000" stroke-width="0.8">Вход сточной</text>
<text x="264.0" y="1622.0" font-size="30.8" textLength="59.0" lengthAdjust="spacingAndGlyphs" stroke="#000" stroke-width="0.8">воды</text>
<line x1="195.0" y1="1594.5" x2="392.5" y2="1594.5" stroke="#000" stroke-width="2.8"/>
<line x1="392.5" y1="1594.5" x2="511.2" y2="1524.3" stroke="#000" stroke-width="2.8"/>
<polygon points="525.0,1516.2 510.9,1527.7 508.1,1523.0" fill="#000"/>
<text x="1558.0" y="1718.5" font-size="30.2" textLength="77.0" lengthAdjust="spacingAndGlyphs" stroke="#000" stroke-width="0.8">Выход</text>
<text x="1495.5" y="1754.5" font-size="30.2" textLength="203.5" lengthAdjust="spacingAndGlyphs" stroke="#000" stroke-width="0.8">очищенной воды</text>
<polyline points="1713.0,1725.5 1483.0,1725.5 1348.0,1679.5" fill="none" stroke="#000" stroke-width="2.8"/>
<line x1="1474.5" y1="1360.0" x2="1474.5" y2="1863.0" stroke="#000" stroke-width="2.8"/>
<line x1="1411.3" y1="1377.5" x2="1492.0" y2="1377.5" stroke="#000" stroke-width="2.8"/>
<line x1="1411.0" y1="1846.5" x2="1490.5" y2="1846.5" stroke="#000" stroke-width="2.8"/>
<line x1="1464.3" y1="1367.3" x2="1484.7" y2="1387.7" stroke="#000" stroke-width="4"/>
<line x1="1464.3" y1="1836.3" x2="1484.7" y2="1856.7" stroke="#000" stroke-width="4"/>
<text transform="translate(1468.0,1640.5) rotate(-90)" font-size="30.2" textLength="57.0" lengthAdjust="spacingAndGlyphs" stroke="#000" stroke-width="0.8">3000</text>
<line x1="450.0" y1="1914.2" x2="1423.0" y2="1914.2" stroke="#000" stroke-width="2.8"/>
<line x1="467.8" y1="1851.3" x2="467.8" y2="1929.5" stroke="#000" stroke-width="2.8"/>
<line x1="1407.8" y1="1851.3" x2="1407.8" y2="1929.5" stroke="#000" stroke-width="2.8"/>
<line x1="457.6" y1="1924.4" x2="478.0" y2="1904.0" stroke="#000" stroke-width="4"/>
<line x1="1397.6" y1="1924.4" x2="1418.0" y2="1904.0" stroke="#000" stroke-width="4"/>
<text x="907.5" y="1905.5" font-size="30.2" textLength="59.5" lengthAdjust="spacingAndGlyphs" stroke="#000" stroke-width="0.8">6000</text>
</g>
<g id="schema">
<text x="2113.5" y="370.0" font-size="30.2" textLength="119.5" lengthAdjust="spacingAndGlyphs" stroke="#000" stroke-width="0.8">Схема №1</text>
<rect x="1921.8" y="465.9" width="501.8" height="272.9" fill="none" stroke="#000" stroke-width="4.7"/>
<line x1="1921.8" y1="483.5" x2="2423.6" y2="483.5" stroke="#000" stroke-width="4.4"/>
<line x1="1921.8" y1="721.4" x2="2423.6" y2="721.4" stroke="#000" stroke-width="4.6"/>
<rect x="1947.9" y="489.5" width="105.7" height="225.0" fill="none" stroke="#000" stroke-width="4.6"/>
<line x1="1922.0" y1="602.4" x2="1946.0" y2="602.4" stroke="#000" stroke-width="4.5"/>
<line x1="2055.5" y1="602.4" x2="2423.6" y2="602.4" stroke="#000" stroke-width="4.5"/>
<line x1="2228.5" y1="483.5" x2="2228.5" y2="602.4" stroke="#000" stroke-width="4.5"/>
<line x1="2293.5" y1="483.5" x2="2293.5" y2="602.4" stroke="#000" stroke-width="4.5"/>
<line x1="2249.6" y1="602.4" x2="2249.6" y2="721.4" stroke="#000" stroke-width="4.6"/>
<line x1="2251.5" y1="604.0" x2="2325.5" y2="651.0" stroke="#000" stroke-width="5"/>
<line x1="2422.0" y1="603.5" x2="2348.5" y2="651.0" stroke="#000" stroke-width="5"/>
<line x1="2251.5" y1="720.0" x2="2325.5" y2="671.5" stroke="#000" stroke-width="5"/>
<line x1="2422.0" y1="721.0" x2="2348.5" y2="671.5" stroke="#000" stroke-width="5"/>
<rect x="2325.4" y="651.4" width="22.0" height="20.0" fill="#fff" stroke="#000" stroke-width="4.6"/>
<line x1="1944.5" y1="471.3" x2="1944.5" y2="721.0" stroke="#3d5a33" stroke-width="2.8" stroke-dasharray="40.8 14.1"/>
<line x1="2057.0" y1="471.3" x2="2057.0" y2="721.0" stroke="#3d5a33" stroke-width="2.8" stroke-dasharray="40.8 14.1"/>
<line x1="2130.6" y1="471.3" x2="2130.6" y2="721.0" stroke="#3d5a33" stroke-width="2.8" stroke-dasharray="40.8 14.1"/>
<line x1="2368.4" y1="471.3" x2="2368.4" y2="721.0" stroke="#3d5a33" stroke-width="2.5" stroke-dasharray="40.8 14.1"/>
<rect x="1930" y="455" width="460" height="30.5" fill="none"/>
<line x1="2130.0" y1="720.6" x2="2368.4" y2="720.6" stroke="#3d5a33" stroke-width="2.4" stroke-dasharray="41.6 13"/>
<rect x="1940.0" y="468.3" width="440.0" height="12.9" fill="#fff"/>
<line x1="1921.8" y1="483.5" x2="2423.6" y2="483.5" stroke="#000" stroke-width="4.4"/>
<line x1="1919.5" y1="465.9" x2="2426.0" y2="465.9" stroke="#000" stroke-width="4.7"/>
<rect x="1943.7" y="469.0" width="26.9" height="12.4" fill="#fff" stroke="#000" stroke-width="4.4"/>
<rect x="1943.0" y="466.5" width="28.0" height="5.9" fill="#000"/>
<line x1="1957.3" y1="472.0" x2="1957.3" y2="481.0" stroke="#000" stroke-width="1"/>
<rect x="1909.6" y="504.4" width="12.2" height="27.8" fill="#fff" stroke="#000" stroke-width="4.4"/>
<line x1="1911.0" y1="518.4" x2="1920.0" y2="518.4" stroke="#000" stroke-width="1"/>
<rect x="2423.6" y="644.6" width="29.6" height="32.8" fill="#fff" stroke="#000" stroke-width="4.6"/>
<line x1="2426.0" y1="661.0" x2="2451.0" y2="661.0" stroke="#000" stroke-width="1"/>
<rect x="2011.6" y="450.3" width="7.2" height="13.7" fill="#fff" stroke="#000" stroke-width="3.6"/>
<rect x="2327.0" y="450.3" width="7.2" height="13.7" fill="#fff" stroke="#000" stroke-width="3.6"/>
<rect x="2011.6" y="741.0" width="7.2" height="13.0" fill="#fff" stroke="#000" stroke-width="3.6"/>
<rect x="2327.0" y="741.0" width="7.2" height="13.0" fill="#fff" stroke="#000" stroke-width="3.6"/>
<text x="2160.0" y="542.2" font-size="44.8" textLength="24.6" lengthAdjust="spacingAndGlyphs" stroke="#000" stroke-width="0.8">A</text>
<text x="2160.0" y="688.1" font-size="44.8" textLength="19.6" lengthAdjust="spacingAndGlyphs" stroke="#000" stroke-width="0.8">B</text>
<text x="2388.7" y="683.0" font-size="44.3" textLength="16.1" lengthAdjust="spacingAndGlyphs" stroke="#000" stroke-width="0.8">C</text>
<text x="2253.0" y="541.5" font-size="44.2" textLength="20.3" lengthAdjust="spacingAndGlyphs" stroke="#000" stroke-width="0.8">D</text>
<text x="2339.0" y="539.8" font-size="43.6" textLength="16.7" lengthAdjust="spacingAndGlyphs" stroke="#000" stroke-width="0.8">E</text>
<text x="1987.9" y="612.6" font-size="44.5" textLength="17.0" lengthAdjust="spacingAndGlyphs" stroke="#000" stroke-width="0.8">F</text>
<line x1="1905.2" y1="434.6" x2="2132.8" y2="434.6" stroke="#000" stroke-width="2.8"/>
<line x1="1921.8" y1="417.4" x2="1921.8" y2="461.5" stroke="#000" stroke-width="2.8"/>
<line x1="1957.6" y1="417.4" x2="1957.6" y2="466.5" stroke="#000" stroke-width="2.8"/>
<line x1="1911.6" y1="444.8" x2="1932.0" y2="424.4" stroke="#000" stroke-width="4"/>
<line x1="1947.4" y1="444.8" x2="1967.8" y2="424.4" stroke="#000" stroke-width="4"/>
<text x="1983.4" y="426.5" font-size="30.2" textLength="142.9" lengthAdjust="spacingAndGlyphs" stroke="#000" stroke-width="0.8">100–1200***</text>
<text x="1911.3" y="387.0" font-size="30.2" textLength="9.5" lengthAdjust="spacingAndGlyphs" stroke="#000" stroke-width="0.8">1</text>
<line x1="1897.4" y1="394.3" x2="1934.0" y2="394.3" stroke="#000" stroke-width="2.8"/>
<line x1="1934.0" y1="394.3" x2="1946.0" y2="449.9" stroke="#000" stroke-width="2.8"/>
<polygon points="1949.0,463.6 1943.2,448.5 1948.1,447.4" fill="#000"/>
<text x="1842.3" y="445.7" font-size="30.2" textLength="14.0" lengthAdjust="spacingAndGlyphs" stroke="#000" stroke-width="0.8">2</text>
<line x1="1828.7" y1="452.0" x2="1869.0" y2="452.0" stroke="#000" stroke-width="2.8"/>
<line x1="1869.0" y1="452.0" x2="1898.8" y2="494.9" stroke="#000" stroke-width="2.8"/>
<polygon points="1907.4,507.2 1895.6,494.7 1899.7,491.8" fill="#000"/>
<line x1="1873.2" y1="466.5" x2="1873.2" y2="655.7" stroke="#000" stroke-width="2.8"/>
<line x1="1856.3" y1="483.1" x2="1917.3" y2="483.1" stroke="#000" stroke-width="2.8"/>
<line x1="1856.3" y1="518.4" x2="1905.7" y2="518.4" stroke="#000" stroke-width="2.8"/>
<line x1="1863.0" y1="472.9" x2="1883.4" y2="493.3" stroke="#000" stroke-width="4"/>
<line x1="1863.0" y1="508.2" x2="1883.4" y2="528.6" stroke="#000" stroke-width="4"/>
<text transform="translate(1866.6,649.2) rotate(-90)" font-size="30.2" textLength="100.5" lengthAdjust="spacingAndGlyphs" stroke="#000" stroke-width="0.8">100–400</text>
<line x1="1905.2" y1="787.4" x2="2470.3" y2="787.4" stroke="#000" stroke-width="2.8"/>
<line x1="1921.8" y1="742.7" x2="1921.8" y2="804.6" stroke="#000" stroke-width="2.8"/>
<line x1="2453.7" y1="681.5" x2="2453.7" y2="804.6" stroke="#000" stroke-width="2.8"/>
<line x1="1911.6" y1="797.6" x2="1932.0" y2="777.2" stroke="#000" stroke-width="4"/>
<line x1="2443.5" y1="797.6" x2="2463.9" y2="777.2" stroke="#000" stroke-width="4"/>
<text x="2159.3" y="779.6" font-size="30.2" textLength="57.5" lengthAdjust="spacingAndGlyphs" stroke="#000" stroke-width="0.8">5300</text>
<line x1="2518.4" y1="433.3" x2="2518.4" y2="770.5" stroke="#000" stroke-width="2.8"/>
<line x1="2337.2" y1="450.4" x2="2536.0" y2="450.4" stroke="#000" stroke-width="2.8"/>
<line x1="2337.2" y1="753.6" x2="2536.0" y2="753.6" stroke="#000" stroke-width="2.8"/>
<line x1="2508.2" y1="440.2" x2="2528.6" y2="460.6" stroke="#000" stroke-width="4"/>
<line x1="2508.2" y1="743.4" x2="2528.6" y2="763.8" stroke="#000" stroke-width="4"/>
<text transform="translate(2512.0,631.0) rotate(-90)" font-size="30.2" textLength="57.3" lengthAdjust="spacingAndGlyphs" stroke="#000" stroke-width="0.8">2200</text>
<line x1="2498.3" y1="644.6" x2="2498.3" y2="755.6" stroke="#000" stroke-width="2.8"/>
<line x1="2457.0" y1="660.9" x2="2514.4" y2="660.9" stroke="#000" stroke-width="2.8"/>
<line x1="2427.6" y1="737.7" x2="2514.4" y2="737.7" stroke="#000" stroke-width="2.8"/>
<line x1="2488.1" y1="650.7" x2="2508.5" y2="671.1" stroke="#000" stroke-width="4"/>
<line x1="2488.1" y1="727.5" x2="2508.5" y2="747.9" stroke="#000" stroke-width="4"/>
<text transform="translate(2490.3,722.4) rotate(-90)" font-size="30.2" textLength="44.4" lengthAdjust="spacingAndGlyphs" stroke="#000" stroke-width="0.8">570</text>
<text x="2479.3" y="559.4" font-size="30.2" textLength="12.0" lengthAdjust="spacingAndGlyphs" stroke="#000" stroke-width="0.8">3</text>
<line x1="2465.4" y1="566.4" x2="2505.3" y2="566.4" stroke="#000" stroke-width="2.8"/>
<line x1="2465.4" y1="566.4" x2="2439.2" y2="627.4" stroke="#000" stroke-width="2.8"/>
<polygon points="2432.9,642.1 2437.5,624.5 2442.5,626.6" fill="#000"/>
</g>
<g id="notes">
<text x="2658.5" y="368.9" font-size="31.4" textLength="458.5" lengthAdjust="spacingAndGlyphs" stroke="#000" stroke-width="0.8">Габаритные размеры ТОПАЭРО 16**:</text>
<text x="2658.0" y="434.0" font-size="31.4" textLength="79.0" lengthAdjust="spacingAndGlyphs" stroke="#000" stroke-width="0.8">Длина</text>
<text x="2893.5" y="434.0" font-size="31.4" textLength="108.5" lengthAdjust="spacingAndGlyphs" stroke="#000" stroke-width="0.8">5300 мм;</text>
<text x="2658.0" y="467.5" font-size="31.4" textLength="95.0" lengthAdjust="spacingAndGlyphs" stroke="#000" stroke-width="0.8">Ширина</text>
<text x="2893.5" y="467.5" font-size="31.4" textLength="108.5" lengthAdjust="spacingAndGlyphs" stroke="#000" stroke-width="0.8">2200 мм;</text>
<text x="2658.0" y="500.0" font-size="31.4" textLength="95.0" lengthAdjust="spacingAndGlyphs" stroke="#000" stroke-width="0.8">Высота</text>
<text x="2893.5" y="500.0" font-size="31.4" textLength="108.5" lengthAdjust="spacingAndGlyphs" stroke="#000" stroke-width="0.8">3000 мм;</text>
<text x="2658.0" y="532.5" font-size="31.4" textLength="126.5" lengthAdjust="spacingAndGlyphs" stroke="#000" stroke-width="0.8">Вес, макс.</text>
<text x="2893.5" y="532.5" font-size="31.4" textLength="98.5" lengthAdjust="spacingAndGlyphs" stroke="#000" stroke-width="0.8">1940 кг.</text>
<text x="2658.0" y="598.5" font-size="31.4" textLength="283.0" lengthAdjust="spacingAndGlyphs" stroke="#000" stroke-width="0.8">A – приемная камера;</text>
<text x="2658.0" y="631.5" font-size="31.4" textLength="180.5" lengthAdjust="spacingAndGlyphs" stroke="#000" stroke-width="0.8">B – аэротенк;</text>
<text x="2658.0" y="665.0" font-size="31.4" textLength="336.5" lengthAdjust="spacingAndGlyphs" stroke="#000" stroke-width="0.8">C – вторичный отстойник;</text>
<text x="2658.0" y="698.5" font-size="31.4" textLength="294.0" lengthAdjust="spacingAndGlyphs" stroke="#000" stroke-width="0.8">D – аварийная камера;</text>
<text x="2658.0" y="731.5" font-size="31.4" textLength="431.5" lengthAdjust="spacingAndGlyphs" stroke="#000" stroke-width="0.8">E – отстойник коридорного типа;</text>
<text x="2658.0" y="764.0" font-size="31.4" textLength="325.0" lengthAdjust="spacingAndGlyphs" stroke="#000" stroke-width="0.8">F – компрессорный отсек.</text>
<text x="1865.7" y="900.0" font-size="31.4" textLength="1322.3" lengthAdjust="spacingAndGlyphs" stroke="#000" stroke-width="0.8">1, 2 – варианты входа  стоков (ввод трубы монтируется при монтаже, либо, по желанию заказчика, на</text>
<text x="1807.7" y="934.5" font-size="31.4" textLength="1103.3" lengthAdjust="spacingAndGlyphs" stroke="#000" stroke-width="0.8">заводе изготовителя (в соответствии с размерами, указанными в заявке на врезку);</text>
<text x="1865.7" y="968.0" font-size="31.4" textLength="815.3" lengthAdjust="spacingAndGlyphs" stroke="#000" stroke-width="0.8">3 – выход очищенной воды (труба ø110 монтируется на заводе).</text>
<text x="1865.7" y="1035.5" font-size="31.4" textLength="1276.3" lengthAdjust="spacingAndGlyphs" stroke="#000" stroke-width="0.8">Монтажные и земляные работы проводить согласно СП 129.13330.2011 ”Наружные сети и сооружения</text>
<text x="1807.7" y="1068.8" font-size="31.4" textLength="409.3" lengthAdjust="spacingAndGlyphs" stroke="#000" stroke-width="0.8">водоснабжения и канализации“.</text>
<text x="1865.7" y="1404.9" font-size="31.4" textLength="578.8" lengthAdjust="spacingAndGlyphs" stroke="#000" stroke-width="0.8">ПРИ МОНТАЖЕ ОБРАТИТЬ ОСОБОЕ ВНИМАНИЕ:</text>
<text x="1865.7" y="1438.3" font-size="31.4" textLength="1332.8" lengthAdjust="spacingAndGlyphs" stroke="#000" stroke-width="0.8">Разработку котлована производить при условии соблюдения правил техники безопасности проведения</text>
<text x="1807.7" y="1471.7" font-size="31.4" textLength="1436.8" lengthAdjust="spacingAndGlyphs" stroke="#000" stroke-width="0.8">земляных работ, с соблюдением требований действующей нормативной документации.  Монтаж производить на</text>
<text x="1807.7" y="1505.2" font-size="31.4" textLength="1330.3" lengthAdjust="spacingAndGlyphs" stroke="#000" stroke-width="0.8">армированную бетонную площадку с песчаной подсыпкой – песок 80–100мм ГОСТ 8736–2014. Станцию не</text>
<text x="1807.7" y="1538.6" font-size="31.4" textLength="1384.3" lengthAdjust="spacingAndGlyphs" stroke="#000" stroke-width="0.8">подвергать ударам, обсыпку производить вместе с заливкой одновременно для компенсации внутреннего и</text>
<text x="1807.7" y="1572.0" font-size="31.4" textLength="251.3" lengthAdjust="spacingAndGlyphs" stroke="#000" stroke-width="0.8">внешнего давления.</text>
<text x="1865.7" y="1630.4" font-size="31.4" textLength="1341.3" lengthAdjust="spacingAndGlyphs" stroke="#000" stroke-width="0.8">*При определении отметки уровня земли предусмотреть будущее благоустройство участка, возможные</text>
<text x="1807.7" y="1663.9" font-size="31.4" textLength="1095.8" lengthAdjust="spacingAndGlyphs" stroke="#000" stroke-width="0.8">ландшафтные работы (которые могут привести к изменению отметки уровня земли).</text>
<text x="1865.7" y="1697.3" font-size="31.4" textLength="936.3" lengthAdjust="spacingAndGlyphs" stroke="#000" stroke-width="0.8">**Производитель может изменить габариты продукции без уведомления.</text>
<text x="1865.7" y="1730.7" font-size="31.4" textLength="880.3" lengthAdjust="spacingAndGlyphs" stroke="#000" stroke-width="0.8">***При выполнении врезки учесть внутренний конструктив станции.</text>
<text x="1865.0" y="1799.2" font-size="31.4" textLength="822.0" lengthAdjust="spacingAndGlyphs" stroke="#000" stroke-width="0.8">Расход песка не менее – 24,6 м³, расход воды не менее – 18,3 м³.</text>
<line x1="1865.5" y1="1803.0" x2="2686.0" y2="1803.0" stroke="#000" stroke-width="2.6"/>
</g>
<g id="table">
<rect x="1809.2" y="1092.6" width="1018.7" height="265.7" fill="none" stroke="#000" stroke-width="6.4"/>
<line x1="1809.0" y1="1139.3" x2="2828.0" y2="1139.3" stroke="#000" stroke-width="6.3"/>
<line x1="1809.0" y1="1217.5" x2="2828.0" y2="1217.5" stroke="#000" stroke-width="5"/>
<line x1="1809.0" y1="1263.6" x2="2828.0" y2="1263.6" stroke="#000" stroke-width="3.5"/>
<line x1="1809.0" y1="1312.3" x2="2828.0" y2="1312.3" stroke="#000" stroke-width="3.5"/>
<line x1="2201.1" y1="1139.0" x2="2201.1" y2="1358.0" stroke="#000" stroke-width="6.5"/>
<line x1="2515.3" y1="1139.0" x2="2515.3" y2="1358.0" stroke="#000" stroke-width="6.5"/>
<line x1="2358.6" y1="1217.5" x2="2358.6" y2="1358.0" stroke="#000" stroke-width="3.5"/>
<line x1="2672.0" y1="1217.5" x2="2672.0" y2="1358.0" stroke="#000" stroke-width="3.5"/>
<text x="2179.5" y="1126.7" font-size="31.4" textLength="278.0" lengthAdjust="spacingAndGlyphs" stroke="#000" stroke-width="0.8">Пояснение к схеме №1</text>
<text x="2220.7" y="1173.5" font-size="31.4" textLength="267.3" lengthAdjust="spacingAndGlyphs" stroke="#000" stroke-width="0.8">От дна установки до</text>
<text x="2228.4" y="1202.9" font-size="31.4" textLength="259.6" lengthAdjust="spacingAndGlyphs" stroke="#000" stroke-width="0.8">нижнего края трубы</text>
<text x="2519.6" y="1173.5" font-size="31.4" textLength="303.0" lengthAdjust="spacingAndGlyphs" stroke="#000" stroke-width="0.8">От поверхности грунта</text>
<text x="2528.2" y="1202.9" font-size="31.4" textLength="294.4" lengthAdjust="spacingAndGlyphs" stroke="#000" stroke-width="0.8">до нижнего края трубы</text>
<text x="2260.3" y="1251.1" font-size="31.4" textLength="38.5" lengthAdjust="spacingAndGlyphs" stroke="#000" stroke-width="0.8">min</text>
<text x="2411.8" y="1251.1" font-size="31.4" textLength="49.5" lengthAdjust="spacingAndGlyphs" stroke="#000" stroke-width="0.8">max</text>
<text x="2573.4" y="1251.1" font-size="31.4" textLength="38.8" lengthAdjust="spacingAndGlyphs" stroke="#000" stroke-width="0.8">min</text>
<text x="2724.6" y="1251.1" font-size="31.4" textLength="49.4" lengthAdjust="spacingAndGlyphs" stroke="#000" stroke-width="0.8">max</text>
<text x="1884.5" y="1298.3" font-size="31.4" textLength="240.5" lengthAdjust="spacingAndGlyphs" stroke="#000" stroke-width="0.8">Вход сточной воды</text>
<text x="2252.3" y="1298.3" font-size="31.4" textLength="55.2" lengthAdjust="spacingAndGlyphs" stroke="#000" stroke-width="0.8">1500</text>
<text x="2407.5" y="1298.3" font-size="31.4" textLength="58.1" lengthAdjust="spacingAndGlyphs" stroke="#000" stroke-width="0.8">2000</text>
<text x="2572.2" y="1298.3" font-size="31.4" textLength="42.8" lengthAdjust="spacingAndGlyphs" stroke="#000" stroke-width="0.8">750</text>
<text x="2722.3" y="1298.3" font-size="31.4" textLength="55.1" lengthAdjust="spacingAndGlyphs" stroke="#000" stroke-width="0.8">1250</text>
<text x="1859.5" y="1345.1" font-size="31.4" textLength="291.0" lengthAdjust="spacingAndGlyphs" stroke="#000" stroke-width="0.8">Выход очищенной воды</text>
<text x="2250.9" y="1345.1" font-size="31.4" textLength="58.0" lengthAdjust="spacingAndGlyphs" stroke="#000" stroke-width="0.8">2080</text>
<text x="2407.5" y="1345.1" font-size="31.4" textLength="58.1" lengthAdjust="spacingAndGlyphs" stroke="#000" stroke-width="0.8">2080</text>
<text x="2570.5" y="1345.1" font-size="31.4" textLength="44.5" lengthAdjust="spacingAndGlyphs" stroke="#000" stroke-width="0.8">670</text>
<text x="2727.4" y="1345.1" font-size="31.4" textLength="44.3" lengthAdjust="spacingAndGlyphs" stroke="#000" stroke-width="0.8">670</text>
</g>
<g id="stamp">
<line x1="1806.5" y1="1824.5" x2="3259.0" y2="1824.5" stroke="#000" stroke-width="5.8"/>
<line x1="1809.2" y1="1824.5" x2="1809.2" y2="2255.4" stroke="#000" stroke-width="5.8"/>
<line x1="1888.4" y1="1824.5" x2="1888.4" y2="2020.0" stroke="#000" stroke-width="5.8"/>
<line x1="2044.6" y1="1824.5" x2="2044.6" y2="2020.0" stroke="#000" stroke-width="5.8"/>
<line x1="1966.4" y1="1824.5" x2="1966.4" y2="2255.4" stroke="#000" stroke-width="5.8"/>
<line x1="2123.0" y1="1824.5" x2="2123.0" y2="2255.4" stroke="#000" stroke-width="5.8"/>
<line x1="2241.2" y1="1824.5" x2="2241.2" y2="2255.4" stroke="#000" stroke-width="5.8"/>
<line x1="2319.1" y1="1824.5" x2="2319.1" y2="2255.4" stroke="#000" stroke-width="5.8"/>
<line x1="1809.0" y1="1863.4" x2="2319.0" y2="1863.4" stroke="#000" stroke-width="3.5"/>
<line x1="1809.0" y1="1902.4" x2="2319.0" y2="1902.4" stroke="#000" stroke-width="3.5"/>
<line x1="1809.0" y1="1941.5" x2="2319.0" y2="1941.5" stroke="#000" stroke-width="3.5"/>
<line x1="1809.0" y1="1980.6" x2="2319.0" y2="1980.6" stroke="#000" stroke-width="5.8"/>
<line x1="1809.0" y1="2020.0" x2="2319.0" y2="2020.0" stroke="#000" stroke-width="5.8"/>
<line x1="1809.0" y1="2059.0" x2="2319.0" y2="2059.0" stroke="#000" stroke-width="3.5"/>
<line x1="1809.0" y1="2098.4" x2="2319.0" y2="2098.4" stroke="#000" stroke-width="3.5"/>
<line x1="1809.0" y1="2137.5" x2="2319.0" y2="2137.5" stroke="#000" stroke-width="3.5"/>
<line x1="1809.0" y1="2176.9" x2="2319.0" y2="2176.9" stroke="#000" stroke-width="3.5"/>
<line x1="1809.0" y1="2216.0" x2="2319.0" y2="2216.0" stroke="#000" stroke-width="3.5"/>
<line x1="2319.0" y1="1902.4" x2="3259.0" y2="1902.4" stroke="#000" stroke-width="5.8"/>
<line x1="2319.0" y1="2020.0" x2="3259.0" y2="2020.0" stroke="#000" stroke-width="5.8"/>
<line x1="2319.0" y1="2137.5" x2="3259.0" y2="2137.5" stroke="#000" stroke-width="5.8"/>
<line x1="2866.0" y1="2020.0" x2="2866.0" y2="2255.4" stroke="#000" stroke-width="5.8"/>
<line x1="2985.0" y1="2020.0" x2="2985.0" y2="2137.5" stroke="#000" stroke-width="5.8"/>
<line x1="3101.0" y1="2020.0" x2="3101.0" y2="2137.5" stroke="#000" stroke-width="5.8"/>
<line x1="2866.0" y1="2059.0" x2="3259.0" y2="2059.0" stroke="#000" stroke-width="5"/>
<text x="1822.6" y="2011.5" font-size="30.1" textLength="52.6" lengthAdjust="spacingAndGlyphs" font-style="italic" stroke="#000" stroke-width="0.8">Изм.</text>
<text x="1895.3" y="2011.5" font-size="30.1" textLength="63.8" lengthAdjust="spacingAndGlyphs" font-style="italic" stroke="#000" stroke-width="0.8">Кол.уч.</text>
<text x="1974.9" y="2011.5" font-size="30.1" textLength="61.2" lengthAdjust="spacingAndGlyphs" font-style="italic" stroke="#000" stroke-width="0.8">Лист</text>
<text x="2051.4" y="2011.5" font-size="30.1" textLength="64.3" lengthAdjust="spacingAndGlyphs" font-style="italic" stroke="#000" stroke-width="0.8">№ док.</text>
<text x="2148.2" y="2011.5" font-size="30.1" textLength="66.7" lengthAdjust="spacingAndGlyphs" font-style="italic" stroke="#000" stroke-width="0.8">Подп.</text>
<text x="2248.8" y="2011.5" font-size="30.1" textLength="61.5" lengthAdjust="spacingAndGlyphs" font-style="italic" stroke="#000" stroke-width="0.8">Дата</text>
<text x="2879.0" y="2049.5" font-size="30.1" textLength="93.0" lengthAdjust="spacingAndGlyphs" font-style="italic" stroke="#000" stroke-width="0.8">Стадия</text>
<text x="3012.5" y="2049.5" font-size="30.1" textLength="62.0" lengthAdjust="spacingAndGlyphs" font-style="italic" stroke="#000" stroke-width="0.8">Лист</text>
<text x="3135.0" y="2049.5" font-size="30.1" textLength="91.0" lengthAdjust="spacingAndGlyphs" font-style="italic" stroke="#000" stroke-width="0.8">Листов</text>
<text x="3175.0" y="2109.5" font-size="31.3" textLength="12.0" lengthAdjust="spacingAndGlyphs" stroke="#000" stroke-width="0.8">1</text>
<text x="2417.5" y="2064.5" font-size="39.8" textLength="352.0" lengthAdjust="spacingAndGlyphs" class="thin" stroke="#000" stroke-width="0.9">Установка очистки</text>
<text x="2482.5" y="2097.0" font-size="39.8" textLength="219.5" lengthAdjust="spacingAndGlyphs" class="thin" stroke="#000" stroke-width="0.9">сточных вод</text>
<text x="2467.5" y="2129.5" font-size="39.8" textLength="252.0" lengthAdjust="spacingAndGlyphs" class="thin" stroke="#000" stroke-width="0.9">V=16,0 м3/сут</text>
<text x="2456.0" y="2208.0" font-size="29.1" textLength="284.5" lengthAdjust="spacingAndGlyphs" stroke="#000" stroke-width="0.8">ТОПАЭРО/TOPAERO 16</text>
<text x="2875.0" y="2209.5" font-size="37.7" textLength="378.0" lengthAdjust="spacingAndGlyphs" class="thin" stroke="#000" stroke-width="0.8">ТОПОЛ–ЭКО/TOPOL–ECO</text>
<text x="2954.0" y="2284.5" font-size="31.3" textLength="101.5" lengthAdjust="spacingAndGlyphs" stroke="#000" stroke-width="0.8">Формат</text>
<text x="3146.0" y="2285.7" font-size="32.0" textLength="33.6" lengthAdjust="spacingAndGlyphs" stroke="#000" stroke-width="0.8">А3</text>
</g>
</svg></body></html>
